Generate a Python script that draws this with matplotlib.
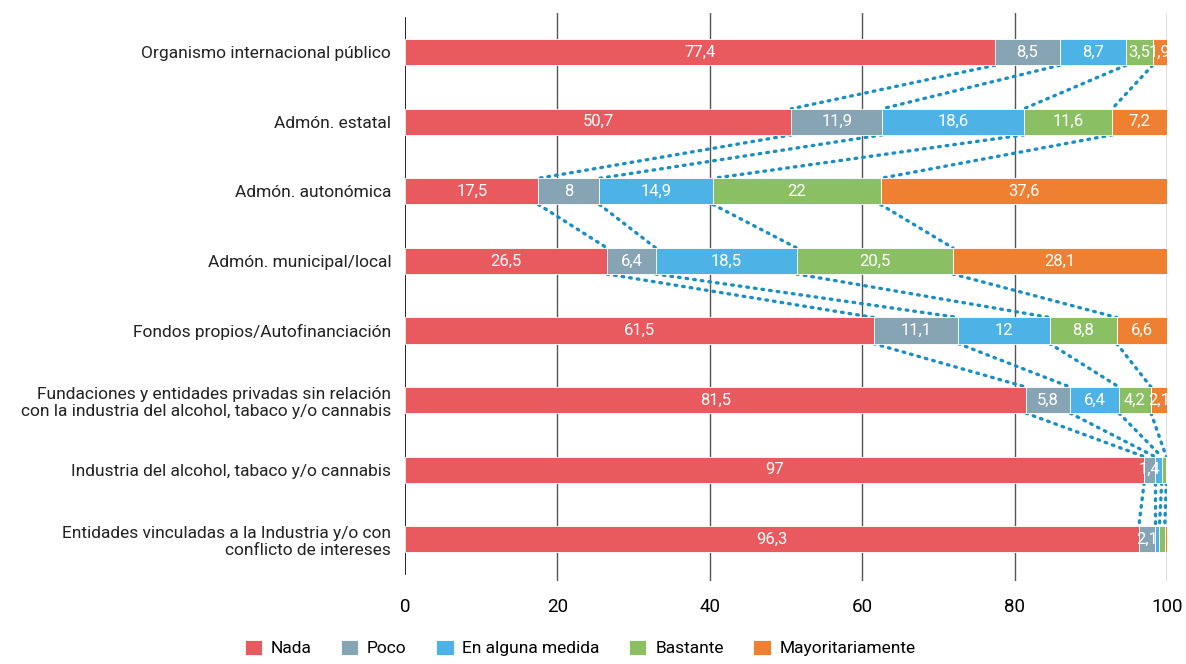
import matplotlib.pyplot as plt
import numpy as np

plt.rcParams['font.family'] = ['Roboto', 'DejaVu Sans']

categorias = ['Organismo internacional público',
              'Admón. estatal',
              'Admón. autonómica',
              'Admón. municipal/local',
              'Fondos propios/Autofinanciación',
              'Fundaciones y entidades privadas sin relación\ncon la industria del alcohol, tabaco y/o cannabis',
              'Industria del alcohol, tabaco y/o cannabis',
              'Entidades vinculadas a la Industria y/o con\nconflicto de intereses']

series = ['Nada', 'Poco', 'En alguna medida', 'Bastante', 'Mayoritariamente']
colores = ['#E95A5E', '#86A4B4', '#4DB3E6', '#8AC063', '#EF7F31']

nada = [77.4, 50.7, 17.5, 26.5, 61.5, 81.5, 97, 96.3]
poco = [8.5, 11.9, 8, 6.4, 11.1, 5.8, 1.4, 2.1]
alguna = [8.7, 18.6, 14.9, 18.5, 12, 6.4, 0.9, 0.6]
bastante = [3.5, 11.6, 22, 20.5, 8.8, 4.2, 0.6, 0.7]
mayor = [1.9, 7.2, 37.6, 28.1, 6.6, 2.1, 0.1, 0.3]

datos = np.array([nada, poco, alguna, bastante, mayor])
y = np.arange(len(categorias))
h = 0.375

fig = plt.figure(figsize=(11.86, 6.64), dpi=100)
ax = fig.add_axes([0.3415, 0.125, 0.984 - 0.3415, 0.855])

# linie siatki
for gx in [20, 40, 60, 80, 100]:
    ax.axvline(gx, color='#555555', lw=1, zorder=0)
ax.axvline(0, color='black', lw=1.2, zorder=0, ymin=0.012, ymax=0.991)

lewo = np.zeros(len(categorias))
for i, (nazwa, kol) in enumerate(zip(series, colores)):
    ax.barh(y, datos[i], left=lewo, height=h, color=kol, edgecolor='white',
            linewidth=0.6, label=nazwa, zorder=2)
    for j, v in enumerate(datos[i]):
        if v >= 1.4:
            txt = ('%g' % v).replace('.', ',')
            ax.text(lewo[j] + v / 2, y[j], txt, ha='center', va='center',
                    color='white', fontsize=12, zorder=3)
    lewo = lewo + datos[i]

# kropkowane linie łączące granice segmentów
cum = np.cumsum(datos, axis=0)
for j in range(len(categorias) - 1):
    for k in range(4):
        ax.plot([cum[k, j], cum[k, j + 1]], [y[j] + h / 2, y[j + 1] - h / 2],
                color='#1A8FC2', lw=2.4, linestyle=(0, (0.5, 1.8)),
                dash_capstyle='round', zorder=1)

ax.set_xlim(0, 100)
ax.set_ylim(7.6, -0.56)
ax.set_yticks(y)
ax.set_yticklabels(categorias, fontsize=12.5, color='#222222')
ax.set_xticks([0, 20, 40, 60, 80, 100])
ax.tick_params(axis='both', length=0)
ax.tick_params(axis='x', labelsize=13.5, pad=12)
ax.tick_params(axis='y', pad=10)
for s in ax.spines.values():
    s.set_visible(False)

fig.legend(loc='lower center', bbox_to_anchor=(0.489, -0.012), ncol=5,
           frameon=False, fontsize=12.5, handlelength=1.0, handleheight=1.0,
           columnspacing=1.7, handletextpad=0.5)

fig.savefig('out.png', dpi=100)
